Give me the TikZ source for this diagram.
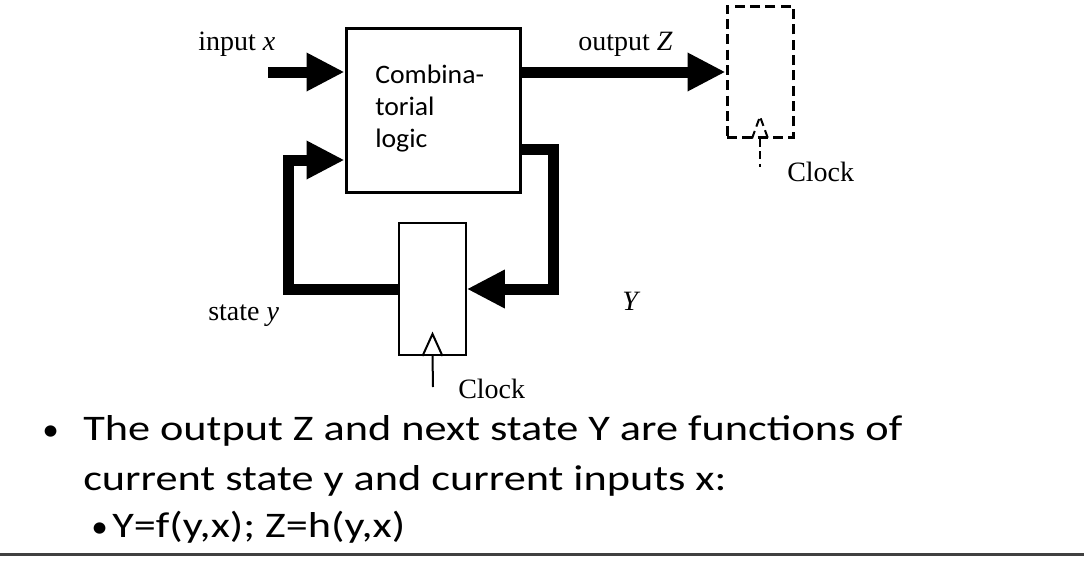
\documentclass[tikz,border=0pt]{standalone}
\usepackage{fontspec}
\setmainfont{Liberation Serif}
\newfontfamily\slidefont[FakeStretch=1.04]{Carlito}
\newfontfamily\slidewide[FakeStretch=1.23]{Carlito}
\usetikzlibrary{arrows.meta}
\definecolor{rulegray}{RGB}{64,64,64}
\tikzset{
  fsmpic/.style={x=0.75pt,y=-0.75pt},
  bus/.style={line width=8.25pt,line join=miter,-{Triangle[length=28.5pt,width=27pt]}},
  logicbox/.style={draw,line width=2.25pt,minimum width=130.5pt,minimum height=123pt,inner sep=0pt},
  regbox/.style={draw,line width=1.5pt,minimum width=50pt,minimum height=99pt,inner sep=0pt},
  clk/.style={line width=1.5pt},
  lbl/.style={font=\fontsize{21}{25}\selectfont,anchor=base west,inner sep=0pt},
  slide/.style={font=\slidewide\fontsize{27}{32}\selectfont,anchor=base west,inner sep=0pt},
  dot/.style={font=\slidefont\fontsize{24}{28}\selectfont,anchor=base west,inner sep=0pt},
}

\begin{document}
\begin{tikzpicture}[fsmpic]
    \useasboundingbox (0,0) rectangle (1084,564);
    % blocks
    \node[logicbox] (comb) at (433,110) {};
    \node[regbox] (reg) at (432.5,289) {};
    \node[regbox,line width=2.25pt,dash pattern=on 7.5pt off 4pt,minimum width=49.5pt,minimum height=98.25pt] (zreg) at (760,71.5) {};
    \node[font=\slidefont\fontsize{20}{24}\selectfont,anchor=base west,align=left,inner sep=0pt] (combtxt) at (375,147) {Combina-\\torial\\logic};
    % buses
    \coordinate (xin) at (268,72);
    \coordinate (ytop) at (553,149);
    \coordinate (ybot) at (553,289);
    \coordinate (sbot) at (288,289);
    \coordinate (stop) at (288,160);
    \draw[bus] (xin) -- (comb.west |- xin);
    \draw[bus] (comb.east |- xin) -- (zreg.west |- xin);
    \draw[bus] (comb.east |- ytop) -- (ytop) -- (ybot) -- (reg.east);
    \draw[bus] (reg.west) -- (sbot) -- (stop) -- (comb.west |- stop);
    % clocks
    \coordinate (clkin) at (433,387);
    \draw[clk] (reg.south) ++(-10,0) -- ++(10,-22) -- ++(10,22);
    \draw[clk] (reg.south) -- (clkin);
    \coordinate (zclkin) at (760,167);
    \draw[clk,dash pattern=on 6pt off 3.5pt] (zreg.south) ++(-8,0) -- ++(8,-22) -- ++(8,22);
    \draw[clk,dash pattern=on 6pt off 3.5pt] (zreg.south) -- (zclkin);
    % labels
    \node[lbl] (inlbl) at (198,50) {input \textit{x}};
    \node[lbl] (outlbl) at (578,50) {output \textit{Z}};
    \node[lbl] (zclklbl) at (787,181) {Clock};
    \node[lbl] (statelbl) at (208,320) {state \textit{y}};
    \node[lbl] (nextlbl) at (622,310) {\textit{Y}};
    \node[lbl] (clklbl) at (458,398) {Clock};
    % bullets
    \node[dot] (b1) at (42,440) {\textbullet};
    \node[slide] (t1) at (83,440) {The output Z and next state Y are functions of};
    \node[slide] (t2) at (83,490) {current state y and current inputs x:};
    \node[dot] (b2) at (91,537) {\textbullet};
    \node[slide] (t3) at (112,537) {Y=f(y,x); Z=h(y,x)};
    \draw[rulegray,line width=2.25pt] (0,554) -- (1084,554);
\end{tikzpicture}
\end{document}
